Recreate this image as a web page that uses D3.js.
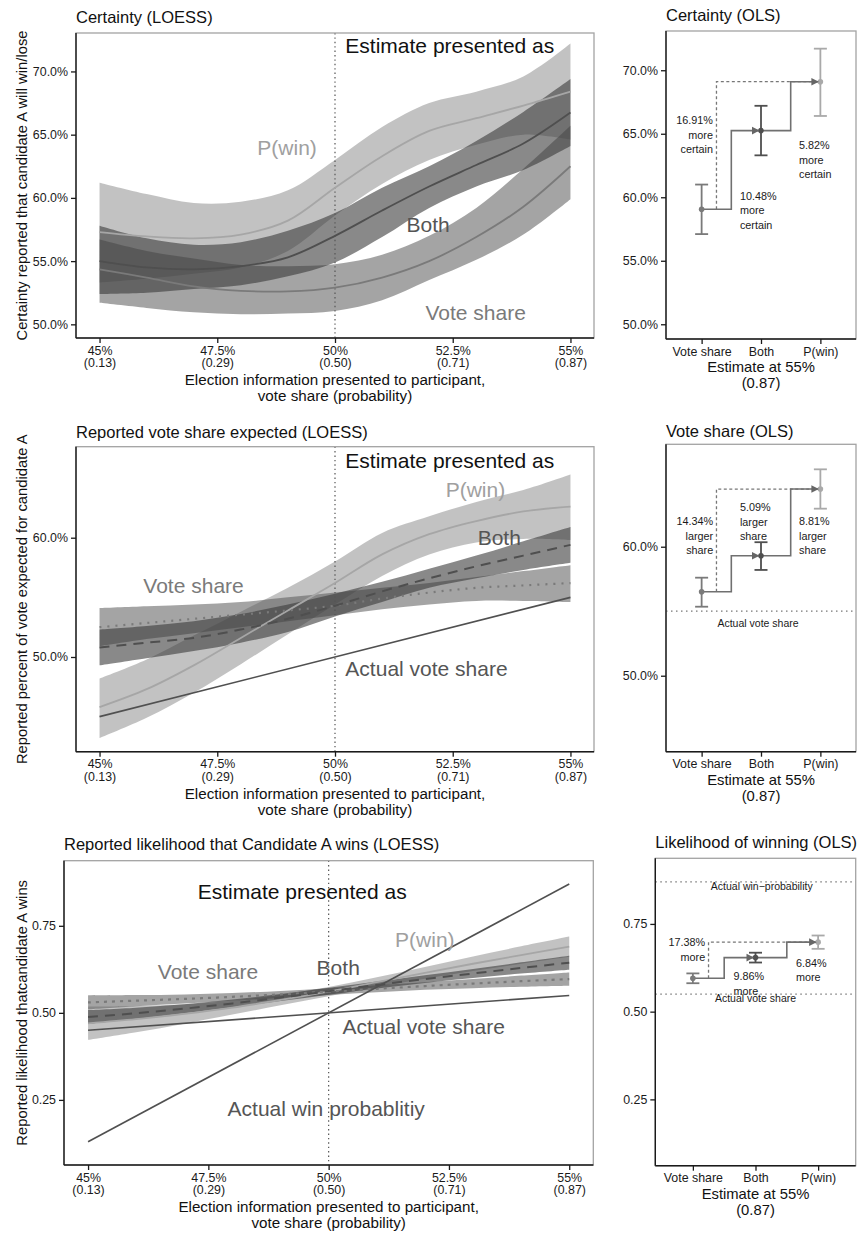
<!DOCTYPE html>
<html><head><meta charset="utf-8">
<script src="https://cdn.jsdelivr.net/npm/d3@7"></script>
<style>
body{margin:0;background:#fff}
svg{display:block}
text{font-family:"Liberation Sans",Arial,Helvetica,sans-serif}
</style>
</head><body>
<svg id="c" width="863" height="1235"></svg>
<script>
// ---------------- DATA ----------------
const xs = [45,46,47,48,49,50,51,52,53,54,55];
const xTicks = [45,47.5,50,52.5,55];
const xTickLabels = ["45%","47.5%","50%","52.5%","55%"];
const probLabels = ["(0.13)","(0.29)","(0.50)","(0.71)","(0.87)"];
const cats = ["Vote share","Both","P(win)"];

// Panel 1: Certainty (LOESS), percent
const certPwinFit = [57.3,56.95,56.8,57.1,58.2,60.8,63.3,65.3,66.3,67.3,68.4];
const certPwinLo  = [53.3,53.6,54.0,54.5,55.8,58.6,61.1,63.0,64.2,65.0,64.6];
const certPwinHi  = [61.2,60.3,59.6,59.7,60.6,63.0,65.6,67.5,68.4,69.6,72.2];
const certBothFit = [55.0,54.5,54.35,54.6,55.3,57.0,59.0,60.9,62.6,64.3,66.75];
const certBothLo  = [52.4,52.5,52.8,53.1,53.8,54.9,56.9,59.2,60.9,62.2,64.1];
const certBothHi  = [57.8,56.8,56.3,56.5,57.4,58.8,60.8,62.5,64.5,66.8,69.4];
const certVsFit   = [54.35,53.7,53.0,52.65,52.6,52.9,53.7,55.0,56.9,59.3,62.5];
const certVsLo    = [51.7,51.3,50.95,50.8,50.85,51.05,51.9,53.5,55.1,57.1,59.9];
const certVsHi    = [56.7,55.8,55.2,54.7,54.6,54.75,55.5,57.0,59.2,62.3,65.7];

// Panel 2: Certainty (OLS)
const certOlsFit = [59.05,65.25,69.1];
const certOlsLo  = [57.1,63.3,66.4];
const certOlsHi  = [61.0,67.2,71.7];
const certNotes = [
  {lines:["16.91%","more","certain"], u:1.19, y:64.9, anchor:"end"},
  {lines:["10.48%","more","certain"], u:1.645, y:58.94, anchor:"start"},
  {lines:["5.82%","more","certain"], u:2.64, y:62.94, anchor:"start"}
];

// Panel 3: Reported vote share (LOESS)
const vsPwinFit = [45.8,47.3,49.3,51.6,53.9,56.2,58.6,60.3,61.4,62.2,62.6];
const vsPwinLo  = [43.2,44.9,47.0,49.4,51.9,54.4,56.8,58.6,59.6,59.9,59.8];
const vsPwinHi  = [48.2,49.8,51.8,53.8,55.8,58.0,60.4,61.8,63.0,64.0,65.3];
const vsBothFit = [50.8,51.2,51.6,52.3,53.2,54.3,55.5,56.6,57.6,58.5,59.4];
const vsBothLo  = [49.3,49.9,50.5,51.2,52.1,53.4,54.6,55.8,56.6,57.3,57.9];
const vsBothHi  = [52.3,52.6,53.0,53.6,54.4,55.3,56.3,57.4,58.5,59.7,60.9];
const vsVsFit   = [52.5,52.85,53.2,53.55,53.9,54.3,54.9,55.4,55.8,56.0,56.2];
const vsVsLo    = [50.9,51.5,52.0,52.5,53.0,53.5,54.0,54.4,54.7,54.7,54.6];
const vsVsHi    = [54.1,54.25,54.4,54.6,55.0,55.4,55.8,56.2,56.7,57.2,57.7];
const actualVoteX = [45,55];
const actualVoteY = [45,55];

// Panel 4: Vote share (OLS)
const vsOlsFit = [56.51,59.3,64.47];
const vsOlsLo  = [55.35,58.2,62.95];
const vsOlsHi  = [57.6,60.35,66.0];
const vsNotes = [
  {lines:["14.34%","larger","share"], u:1.195, y:60.83, anchor:"end"},
  {lines:["5.09%","larger","share"], u:1.645, y:61.9, anchor:"start"},
  {lines:["8.81%","larger","share"], u:2.64, y:60.83, anchor:"start"}
];

// Panel 5: Likelihood (LOESS), proportion
const winPwinFit = [0.470,0.482,0.497,0.515,0.537,0.561,0.588,0.615,0.641,0.666,0.690];
const winPwinLo  = [0.422,0.444,0.469,0.495,0.522,0.548,0.574,0.598,0.620,0.641,0.661];
const winPwinHi  = [0.518,0.520,0.525,0.535,0.552,0.574,0.602,0.632,0.662,0.691,0.719];
const winBothFit = [0.488,0.499,0.512,0.527,0.544,0.562,0.580,0.597,0.613,0.629,0.644];
const winBothLo  = [0.468,0.483,0.499,0.516,0.534,0.552,0.570,0.586,0.600,0.613,0.624];
const winBothHi  = [0.508,0.515,0.525,0.538,0.554,0.572,0.590,0.608,0.626,0.645,0.664];
const winVsFit   = [0.530,0.535,0.540,0.546,0.553,0.561,0.569,0.577,0.584,0.591,0.597];
const winVsLo    = [0.510,0.519,0.527,0.535,0.543,0.551,0.559,0.566,0.571,0.575,0.578];
const winVsHi    = [0.550,0.551,0.553,0.557,0.563,0.571,0.579,0.588,0.597,0.607,0.616];
const actualWinX = [45,55];
const actualWinY = [0.13,0.87];
const actualShareX = [45,55];
const actualShareY = [0.45,0.55];

// Panel 6: Likelihood of winning (OLS)
const winOlsFit = [0.595,0.654,0.698];
const winOlsLo  = [0.581,0.640,0.679];
const winOlsHi  = [0.609,0.668,0.717];
const winNotes = [
  {lines:["17.38%","more"], u:1.196, y:0.677, anchor:"end"},
  {lines:["9.86%","more"], u:1.65, y:0.58, anchor:"start"},
  {lines:["6.84%","more"], u:2.645, y:0.618, anchor:"start"}
];

// ---------------- STYLE ----------------
const FONT = '"Liberation Sans", Arial, Helvetica, sans-serif';
const COL = {
  pwinBand:"#7f7f7f", pwinLine:"#a6a6a6", pwinOp:0.48,
  vsBand:"#5a5a5a", vsLine:"#7a7a7a", vsOp:0.55,
  bothBand:"#3a3a3a", bothLine:"#4f4f4f", bothOp:0.6,
  ink:"#1a1a1a"
};
const catColors = [COL.vsLine, COL.bothLine, "#a9a9a9"];
const svg = d3.select("#c");

function frame(g,L,R,T,B){
  g.append("rect").attr("x",L).attr("y",T).attr("width",R-L).attr("height",B-T)
    .attr("fill","none").attr("stroke","#a3a3a3").attr("stroke-width",1.3);
  g.append("line").attr("x1",L).attr("x2",L).attr("y1",T).attr("y2",B).attr("stroke","#1a1a1a").attr("stroke-width",1.4);
  g.append("line").attr("x1",L).attr("x2",R).attr("y1",B).attr("y2",B).attr("stroke","#1a1a1a").attr("stroke-width",1.4);
}
function styleAxis(a){
  a.select(".domain").remove();
  a.selectAll(".tick line").attr("stroke","#1a1a1a").attr("stroke-width",1.3);
  a.selectAll(".tick text").attr("font-size",12.4).attr("fill",COL.ink).attr("font-family",FONT);
}
function yAxis(g,y,L,ticks,fmt){
  const a = g.append("g").attr("transform",`translate(${L},0)`)
    .call(d3.axisLeft(y).tickValues(ticks).tickFormat(fmt).tickSize(5).tickPadding(3));
  styleAxis(a);
}
function title(g,x,y,t){
  g.append("text").attr("x",x).attr("y",y).attr("font-size",16.5).attr("fill","#111").text(t);
}
function yTitle(g,cy,t){
  g.append("text").attr("transform",`translate(27,${cy}) rotate(-90)`).attr("text-anchor","middle")
    .attr("font-size",14.8).attr("fill","#111").text(t);
}

function loessPanel(c){
  const g = svg.append("g");
  const x = d3.scaleLinear().domain([44.5,55.5]).range([c.L,c.R]);
  const y = d3.scaleLinear().domain(c.yDomain).range([c.B,c.T]);
  title(g,c.L,c.titleY,c.title);
  c.series.forEach(s=>{
    const area = d3.area().x((d,i)=>x(xs[i])).y0((d,i)=>y(s.lo[i])).y1((d,i)=>y(s.hi[i])).curve(d3.curveCatmullRom);
    g.append("path").attr("d",area(s.fit)).attr("fill",s.band).attr("fill-opacity",s.op);
  });
  g.append("line").attr("x1",x(50)).attr("x2",x(50)).attr("y1",c.T).attr("y2",c.B)
    .attr("stroke","#555").attr("stroke-width",1.2).attr("stroke-dasharray","1.4,3");
  c.series.forEach(s=>{
    const line = d3.line().x((d,i)=>x(xs[i])).y(d=>y(d)).curve(d3.curveCatmullRom);
    g.append("path").attr("d",line(s.fit)).attr("fill","none").attr("stroke",s.line)
      .attr("stroke-width",s.w||1.8).attr("stroke-dasharray",s.dash||null);
  });
  (c.actual||[]).forEach(a=>{
    const line = d3.line().x((d,i)=>x(a.x[i])).y(d=>y(d));
    g.append("path").attr("d",line(a.y)).attr("fill","none").attr("stroke","#505050").attr("stroke-width",1.6);
  });
  c.labels.forEach(l=>{
    g.append("text").attr("x",x(l.x)).attr("y",y(l.y)).attr("font-size",21).attr("fill",l.color).text(l.text);
  });
  frame(g,c.L,c.R,c.T,c.B);
  yAxis(g,y,c.L,c.yTicks,c.yFmt);
  const ax = g.append("g").attr("transform",`translate(0,${c.B})`)
    .call(d3.axisBottom(x).tickValues(xTicks).tickSize(5).tickPadding(3));
  styleAxis(ax);
  ax.selectAll(".tick text").each(function(d,i){
    const t = d3.select(this); t.text(null).attr("dy",null);
    t.append("tspan").attr("x",0).attr("dy","0.71em").text(xTickLabels[i]);
    t.append("tspan").attr("x",0).attr("dy","1.0em").text(probLabels[i]);
  });
  const cx = (c.L+c.R)/2;
  g.append("text").attr("x",cx).attr("y",c.B+47).attr("text-anchor","middle").attr("font-size",15.2).attr("fill","#111")
    .text("Election information presented to participant,");
  g.append("text").attr("x",cx).attr("y",c.B+63).attr("text-anchor","middle").attr("font-size",15.2).attr("fill","#111")
    .text("vote share (probability)");
  yTitle(g,(c.T+c.B)/2,c.yTitle);
}

function olsPanel(c){
  const g = svg.append("g");
  const x = d3.scalePoint().domain(cats).range([c.L,c.R]).padding(0.6);
  const step = x.step();
  const ux = u => x(cats[0]) + (u-1)*step;
  const y = d3.scaleLinear().domain(c.yDomain).range([c.B,c.T]);
  title(g,c.L,c.titleY,c.title);
  (c.refs||[]).forEach(r=>{
    g.append("line").attr("x1",c.L).attr("x2",c.R).attr("y1",y(r.v)).attr("y2",y(r.v))
      .attr("stroke","#777").attr("stroke-width",1.3).attr("stroke-dasharray","1.5,3.5");
    g.append("text").attr("x",ux(r.u)).attr("y",y(r.ly)).attr("dy","0.35em").attr("text-anchor","middle")
      .attr("font-size",10.5).attr("fill",COL.ink).text(r.text);
  });
  const f = c.fit;
  g.append("path").attr("d",d3.line()([[ux(1.25),y(f[0])],[ux(1.25),y(f[2])],[x(cats[2])-2,y(f[2])]]))
    .attr("fill","none").attr("stroke","#777").attr("stroke-width",1.3).attr("stroke-dasharray","3,2.5");
  g.append("path").attr("d",d3.line()([
      [x(cats[0]),y(f[0])],[ux(1.5),y(f[0])],[ux(1.5),y(f[1])],[x(cats[1]),y(f[1])],
      [ux(2.5),y(f[1])],[ux(2.5),y(f[2])],[x(cats[2])-2,y(f[2])]]))
    .attr("fill","none").attr("stroke","#707070").attr("stroke-width",1.6);
  cats.forEach((k,i)=>{
    const px = x(k), col = catColors[i];
    g.append("line").attr("x1",px).attr("x2",px).attr("y1",y(c.lo[i])).attr("y2",y(c.hi[i])).attr("stroke",col).attr("stroke-width",1.8);
    [c.lo[i],c.hi[i]].forEach(v=>g.append("line").attr("x1",px-6.5).attr("x2",px+6.5).attr("y1",y(v)).attr("y2",y(v)).attr("stroke",col).attr("stroke-width",1.8));
    g.append("circle").attr("cx",px).attr("cy",y(f[i])).attr("r",2.8).attr("fill",col);
  });
  [1,2].forEach(i=>{
    const tx = x(cats[i])-1.5, ty = y(f[i]);
    g.append("path").attr("d",`M${tx},${ty}L${tx-7.5},${ty-3.8}L${tx-7.5},${ty+3.8}Z`).attr("fill","#666");
  });
  c.notes.forEach(n=>{
    const t = g.append("text").attr("text-anchor",n.anchor).attr("font-size",10.8).attr("fill",COL.ink);
    const y0 = y(n.y) - (n.lines.length-1)/2*14.5;
    n.lines.forEach((s,j)=>t.append("tspan").attr("x",ux(n.u)).attr("y",y0+j*14.5).attr("dy","0.35em").text(s));
  });
  frame(g,c.L,c.R,c.T,c.B);
  yAxis(g,y,c.L,c.yTicks,c.yFmt);
  const ax = g.append("g").attr("transform",`translate(0,${c.B})`)
    .call(d3.axisBottom(x).tickSize(5).tickPadding(3));
  styleAxis(ax);
  const cx = (c.L+c.R)/2;
  g.append("text").attr("x",cx).attr("y",c.B+33).attr("text-anchor","middle").attr("font-size",14.8).attr("fill","#111").text("Estimate at 55%");
  g.append("text").attr("x",cx).attr("y",c.B+49).attr("text-anchor","middle").attr("font-size",14.8).attr("fill","#111").text("(0.87)");
}

const pct = d3.format(".1%");
const pctFmt = v => pct(v/100);
const dec = d3.format(".2f");

// ---------- Row 1 ----------
loessPanel({
  L:76,R:594,T:33,B:338, yDomain:[48.92,73.04], yTicks:[50,55,60,65,70], yFmt:pctFmt,
  title:"Certainty (LOESS)", titleY:23,
  yTitle:"Certainty reported that candidate A will win/lose",
  series:[
    {fit:certPwinFit,lo:certPwinLo,hi:certPwinHi,band:COL.pwinBand,op:COL.pwinOp,line:COL.pwinLine},
    {fit:certVsFit,lo:certVsLo,hi:certVsHi,band:COL.vsBand,op:COL.vsOp,line:COL.vsLine},
    {fit:certBothFit,lo:certBothLo,hi:certBothHi,band:COL.bothBand,op:COL.bothOp,line:COL.bothLine}
  ],
  labels:[
    {text:"Estimate presented as",x:50.22,y:71.46,color:"#111"},
    {text:"P(win)",x:48.35,y:63.4,color:"#a0a0a0"},
    {text:"Both",x:51.52,y:57.33,color:"#555"},
    {text:"Vote share",x:51.92,y:50.34,color:"#7a7a7a"}
  ]
});
olsPanel({
  L:666,R:856,T:31,B:339, yDomain:[48.84,73.09], yTicks:[50,55,60,65,70], yFmt:pctFmt,
  title:"Certainty (OLS)", titleY:21,
  fit:certOlsFit, lo:certOlsLo, hi:certOlsHi, notes:certNotes
});

// ---------- Row 2 ----------
loessPanel({
  L:76,R:594,T:446.7,B:751.7, yDomain:[42.06,67.63], yTicks:[50,60], yFmt:pctFmt,
  title:"Reported vote share expected (LOESS)", titleY:437.5,
  yTitle:"Reported percent of vote expected for candidate A",
  series:[
    {fit:vsPwinFit,lo:vsPwinLo,hi:vsPwinHi,band:COL.pwinBand,op:COL.pwinOp,line:COL.pwinLine},
    {fit:vsVsFit,lo:vsVsLo,hi:vsVsHi,band:COL.vsBand,op:COL.vsOp,line:COL.vsLine,dash:"2,6",w:2.2},
    {fit:vsBothFit,lo:vsBothLo,hi:vsBothHi,band:COL.bothBand,op:COL.bothOp,line:COL.bothLine,dash:"10,7",w:2}
  ],
  actual:[{x:actualVoteX,y:actualVoteY}],
  labels:[
    {text:"Estimate presented as",x:50.22,y:65.82,color:"#111"},
    {text:"P(win)",x:52.35,y:63.39,color:"#a0a0a0"},
    {text:"Both",x:53.03,y:59.39,color:"#555"},
    {text:"Vote share",x:45.93,y:55.39,color:"#7a7a7a"},
    {text:"Actual vote share",x:50.22,y:48.43,color:"#555"}
  ]
});
olsPanel({
  L:666,R:856,T:444.3,B:751.7, yDomain:[44.11,67.94], yTicks:[50,60], yFmt:pctFmt,
  title:"Vote share (OLS)", titleY:436.5,
  fit:vsOlsFit, lo:vsOlsLo, hi:vsOlsHi, notes:vsNotes,
  refs:[{v:55,text:"Actual vote share",u:1.95,ly:54.05}]
});

// ---------- Row 3 ----------
loessPanel({
  L:64,R:593.3,T:860.7,B:1165, yDomain:[0.063,0.937], yTicks:[0.25,0.5,0.75], yFmt:dec,
  title:"Reported likelihood that Candidate A wins (LOESS)", titleY:850,
  yTitle:"Reported likelihood thatcandidate A wins",
  series:[
    {fit:winPwinFit,lo:winPwinLo,hi:winPwinHi,band:COL.pwinBand,op:COL.pwinOp,line:COL.pwinLine},
    {fit:winVsFit,lo:winVsLo,hi:winVsHi,band:COL.vsBand,op:COL.vsOp,line:COL.vsLine,dash:"3,5",w:2.2},
    {fit:winBothFit,lo:winBothLo,hi:winBothHi,band:COL.bothBand,op:COL.bothOp,line:COL.bothLine,dash:"10,7",w:2}
  ],
  actual:[{x:actualWinX,y:actualWinY},{x:actualShareX,y:actualShareY}],
  labels:[
    {text:"Estimate presented as",x:47.28,y:0.826,color:"#111"},
    {text:"P(win)",x:51.38,y:0.688,color:"#a0a0a0"},
    {text:"Both",x:49.75,y:0.608,color:"#555"},
    {text:"Vote share",x:46.45,y:0.598,color:"#7a7a7a"},
    {text:"Actual vote share",x:50.29,y:0.44,color:"#555"},
    {text:"Actual win probablitiy",x:47.9,y:0.204,color:"#555"}
  ]
});
olsPanel({
  L:655.3,R:855.7,T:858.3,B:1165.7, yDomain:[0.061,0.937], yTicks:[0.25,0.5,0.75], yFmt:dec,
  title:"Likelihood of winning (OLS)", titleY:847.5,
  fit:winOlsFit, lo:winOlsLo, hi:winOlsHi, notes:winNotes,
  refs:[{v:0.87,text:"Actual win\u2212probability",u:2.1,ly:0.858},
        {v:0.55,text:"Actual vote share",u:2.0,ly:0.538}]
});
</script>
</body></html>
